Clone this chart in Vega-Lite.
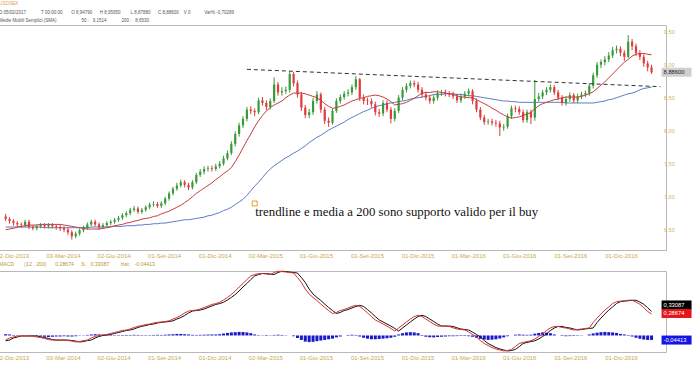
{
"$schema": "https://vega.github.io/schema/vega-lite/v6.json",
"background": "white",
"padding": {"left": -5, "top": 0, "right": 0, "bottom": 0},
"spacing": 2,
"config": {
  "font": "Liberation Sans",
  "view": {"stroke": "#b8b8b8", "strokeWidth": 1},
  "axis": {"grid": false, "domain": false, "ticks": false, "labelFont": "Liberation Sans", "labelColor": "#c9a94e", "labelFontSize": 6, "labelOverlap": false, "labelFlush": false, "labelBound": false}
},
"datasets": {
  "w": [
{"d":"2013-11-29","o":6.70,"h":6.74,"l":6.63,"c":6.66,"a":6.50,"b":6.54,"m":-0.036,"s":-0.042,"hs":0.010},
{"d":"2013-12-06","o":6.66,"h":6.69,"l":6.59,"c":6.63,"a":6.51,"b":6.54,"m":-0.020,"s":-0.036,"hs":0.008},
{"d":"2013-12-13","o":6.63,"h":6.66,"l":6.56,"c":6.60,"a":6.52,"b":6.54,"m":-0.012,"s":-0.020,"hs":0.004},
{"d":"2013-12-20","o":6.60,"h":6.63,"l":6.54,"c":6.58,"a":6.54,"b":6.54,"m":-0.004,"s":-0.012,"hs":0.002},
{"d":"2013-12-27","o":6.58,"h":6.61,"l":6.53,"c":6.57,"a":6.55,"b":6.54,"m":-0.004,"s":-0.004,"hs":0.001},
{"d":"2014-01-03","o":6.57,"h":6.65,"l":6.54,"c":6.62,"a":6.56,"b":6.54,"m":-0.004,"s":-0.004,"hs":0.000},
{"d":"2014-01-10","o":6.62,"h":6.65,"l":6.51,"c":6.54,"a":6.57,"b":6.54,"m":-0.004,"s":-0.004,"hs":-0.002},
{"d":"2014-01-17","o":6.54,"h":6.57,"l":6.49,"c":6.52,"a":6.57,"b":6.54,"m":-0.004,"s":-0.004,"hs":-0.003},
{"d":"2014-01-24","o":6.52,"h":6.58,"l":6.49,"c":6.55,"a":6.57,"b":6.54,"m":-0.012,"s":-0.004,"hs":-0.005},
{"d":"2014-01-31","o":6.55,"h":6.60,"l":6.52,"c":6.57,"a":6.58,"b":6.54,"m":-0.016,"s":-0.012,"hs":-0.008},
{"d":"2014-02-07","o":6.57,"h":6.60,"l":6.52,"c":6.55,"a":6.58,"b":6.53,"m":-0.024,"s":-0.016,"hs":-0.010},
{"d":"2014-02-14","o":6.55,"h":6.60,"l":6.52,"c":6.57,"a":6.58,"b":6.53,"m":-0.032,"s":-0.024,"hs":-0.012},
{"d":"2014-02-21","o":6.57,"h":6.60,"l":6.52,"c":6.55,"a":6.58,"b":6.53,"m":-0.036,"s":-0.032,"hs":-0.010},
{"d":"2014-02-28","o":6.55,"h":6.58,"l":6.50,"c":6.54,"a":6.58,"b":6.53,"m":-0.036,"s":-0.036,"hs":-0.008},
{"d":"2014-03-07","o":6.54,"h":6.57,"l":6.48,"c":6.52,"a":6.58,"b":6.53,"m":-0.036,"s":-0.036,"hs":-0.008},
{"d":"2014-03-14","o":6.52,"h":6.55,"l":6.46,"c":6.50,"a":6.57,"b":6.53,"m":-0.036,"s":-0.036,"hs":-0.006},
{"d":"2014-03-21","o":6.50,"h":6.53,"l":6.42,"c":6.46,"a":6.56,"b":6.53,"m":-0.040,"s":-0.036,"hs":-0.008},
{"d":"2014-03-28","o":6.46,"h":6.49,"l":6.35,"c":6.40,"a":6.55,"b":6.53,"m":-0.044,"s":-0.040,"hs":-0.008},
{"d":"2014-04-04","o":6.40,"h":6.47,"l":6.37,"c":6.44,"a":6.54,"b":6.53,"m":-0.051,"s":-0.044,"hs":-0.006},
{"d":"2014-04-11","o":6.44,"h":6.52,"l":6.41,"c":6.49,"a":6.53,"b":6.53,"m":-0.048,"s":-0.051,"hs":-0.002},
{"d":"2014-04-18","o":6.49,"h":6.56,"l":6.46,"c":6.53,"a":6.52,"b":6.53,"m":-0.040,"s":-0.048,"hs":0.002},
{"d":"2014-04-25","o":6.53,"h":6.61,"l":6.50,"c":6.58,"a":6.51,"b":6.53,"m":-0.036,"s":-0.040,"hs":0.004},
{"d":"2014-05-02","o":6.58,"h":6.65,"l":6.55,"c":6.62,"a":6.51,"b":6.54,"m":-0.020,"s":-0.036,"hs":0.008},
{"d":"2014-05-09","o":6.62,"h":6.65,"l":6.55,"c":6.58,"a":6.51,"b":6.54,"m":-0.008,"s":-0.020,"hs":0.010},
{"d":"2014-05-16","o":6.58,"h":6.61,"l":6.50,"c":6.54,"a":6.51,"b":6.54,"m":0.000,"s":-0.008,"hs":0.008},
{"d":"2014-05-23","o":6.54,"h":6.60,"l":6.51,"c":6.57,"a":6.52,"b":6.54,"m":0.004,"s":0.000,"hs":0.006},
{"d":"2014-05-30","o":6.57,"h":6.63,"l":6.54,"c":6.60,"a":6.53,"b":6.54,"m":0.008,"s":0.004,"hs":0.004},
{"d":"2014-06-06","o":6.60,"h":6.65,"l":6.57,"c":6.62,"a":6.54,"b":6.55,"m":0.016,"s":0.008,"hs":0.004},
{"d":"2014-06-13","o":6.62,"h":6.68,"l":6.59,"c":6.65,"a":6.56,"b":6.55,"m":0.023,"s":0.016,"hs":0.003},
{"d":"2014-06-20","o":6.65,"h":6.71,"l":6.62,"c":6.68,"a":6.57,"b":6.55,"m":0.031,"s":0.023,"hs":0.003},
{"d":"2014-06-27","o":6.68,"h":6.75,"l":6.65,"c":6.72,"a":6.58,"b":6.55,"m":0.039,"s":0.031,"hs":0.004},
{"d":"2014-07-04","o":6.72,"h":6.78,"l":6.69,"c":6.75,"a":6.60,"b":6.56,"m":0.043,"s":0.039,"hs":0.003},
{"d":"2014-07-11","o":6.75,"h":6.83,"l":6.72,"c":6.80,"a":6.61,"b":6.56,"m":0.051,"s":0.043,"hs":0.004},
{"d":"2014-07-18","o":6.80,"h":6.86,"l":6.77,"c":6.82,"a":6.63,"b":6.56,"m":0.063,"s":0.051,"hs":0.005},
{"d":"2014-07-25","o":6.82,"h":6.85,"l":6.74,"c":6.77,"a":6.64,"b":6.57,"m":0.072,"s":0.063,"hs":0.004},
{"d":"2014-08-01","o":6.77,"h":6.83,"l":6.74,"c":6.80,"a":6.66,"b":6.57,"m":0.078,"s":0.072,"hs":0.003},
{"d":"2014-08-08","o":6.80,"h":6.87,"l":6.77,"c":6.84,"a":6.67,"b":6.58,"m":0.086,"s":0.078,"hs":0.003},
{"d":"2014-08-15","o":6.84,"h":6.91,"l":6.81,"c":6.88,"a":6.68,"b":6.58,"m":0.090,"s":0.086,"hs":0.003},
{"d":"2014-08-22","o":6.88,"h":6.93,"l":6.85,"c":6.89,"a":6.70,"b":6.59,"m":0.098,"s":0.090,"hs":0.004},
{"d":"2014-08-29","o":6.89,"h":6.92,"l":6.83,"c":6.86,"a":6.71,"b":6.59,"m":0.103,"s":0.098,"hs":0.005},
{"d":"2014-09-05","o":6.86,"h":6.93,"l":6.83,"c":6.90,"a":6.74,"b":6.60,"m":0.106,"s":0.103,"hs":0.004},
{"d":"2014-09-12","o":6.90,"h":7.00,"l":6.87,"c":6.97,"a":6.76,"b":6.60,"m":0.110,"s":0.106,"hs":0.006},
{"d":"2014-09-19","o":6.97,"h":7.08,"l":6.94,"c":7.05,"a":6.78,"b":6.61,"m":0.115,"s":0.110,"hs":0.008},
{"d":"2014-09-26","o":7.05,"h":7.15,"l":7.02,"c":7.12,"a":6.81,"b":6.62,"m":0.129,"s":0.115,"hs":0.010},
{"d":"2014-10-03","o":7.12,"h":7.21,"l":7.09,"c":7.17,"a":6.84,"b":6.63,"m":0.141,"s":0.129,"hs":0.012},
{"d":"2014-10-10","o":7.17,"h":7.26,"l":7.14,"c":7.22,"a":6.87,"b":6.64,"m":0.157,"s":0.141,"hs":0.012},
{"d":"2014-10-17","o":7.22,"h":7.25,"l":7.14,"c":7.18,"a":6.91,"b":6.65,"m":0.177,"s":0.157,"hs":0.010},
{"d":"2014-10-24","o":7.18,"h":7.21,"l":7.10,"c":7.14,"a":6.95,"b":6.65,"m":0.192,"s":0.177,"hs":0.008},
{"d":"2014-10-31","o":7.14,"h":7.25,"l":7.11,"c":7.22,"a":7.00,"b":6.66,"m":0.196,"s":0.192,"hs":0.005},
{"d":"2014-11-07","o":7.22,"h":7.36,"l":7.19,"c":7.33,"a":7.05,"b":6.67,"m":0.200,"s":0.196,"hs":0.004},
{"d":"2014-11-14","o":7.33,"h":7.42,"l":7.30,"c":7.38,"a":7.09,"b":6.68,"m":0.208,"s":0.200,"hs":0.005},
{"d":"2014-11-21","o":7.38,"h":7.46,"l":7.34,"c":7.42,"a":7.13,"b":6.69,"m":0.220,"s":0.208,"hs":0.006},
{"d":"2014-11-28","o":7.42,"h":7.47,"l":7.38,"c":7.43,"a":7.17,"b":6.71,"m":0.232,"s":0.220,"hs":0.007},
{"d":"2014-12-05","o":7.43,"h":7.47,"l":7.38,"c":7.42,"a":7.21,"b":6.72,"m":0.244,"s":0.232,"hs":0.008},
{"d":"2014-12-12","o":7.42,"h":7.50,"l":7.39,"c":7.46,"a":7.26,"b":6.74,"m":0.251,"s":0.244,"hs":0.008},
{"d":"2014-12-19","o":7.46,"h":7.54,"l":7.43,"c":7.50,"a":7.30,"b":6.76,"m":0.261,"s":0.251,"hs":0.010},
{"d":"2014-12-26","o":7.50,"h":7.62,"l":7.47,"c":7.58,"a":7.35,"b":6.79,"m":0.279,"s":0.261,"hs":0.015},
{"d":"2015-01-02","o":7.58,"h":7.70,"l":7.55,"c":7.66,"a":7.39,"b":6.81,"m":0.299,"s":0.279,"hs":0.020},
{"d":"2015-01-09","o":7.66,"h":7.84,"l":7.63,"c":7.80,"a":7.44,"b":6.84,"m":0.322,"s":0.299,"hs":0.024},
{"d":"2015-01-16","o":7.80,"h":7.99,"l":7.76,"c":7.95,"a":7.53,"b":6.88,"m":0.350,"s":0.322,"hs":0.026},
{"d":"2015-01-23","o":7.95,"h":8.12,"l":7.91,"c":8.08,"a":7.63,"b":6.92,"m":0.381,"s":0.350,"hs":0.028},
{"d":"2015-01-30","o":8.08,"h":8.22,"l":8.04,"c":8.18,"a":7.74,"b":6.96,"m":0.409,"s":0.381,"hs":0.027},
{"d":"2015-02-06","o":8.18,"h":8.36,"l":8.14,"c":8.32,"a":7.85,"b":7.02,"m":0.440,"s":0.409,"hs":0.024},
{"d":"2015-02-13","o":8.32,"h":8.37,"l":8.25,"c":8.30,"a":7.95,"b":7.09,"m":0.468,"s":0.440,"hs":0.018},
{"d":"2015-02-20","o":8.30,"h":8.34,"l":8.22,"c":8.28,"a":8.06,"b":7.16,"m":0.479,"s":0.468,"hs":0.008},
{"d":"2015-02-27","o":8.28,"h":8.50,"l":8.25,"c":8.46,"a":8.15,"b":7.22,"m":0.487,"s":0.479,"hs":0.003},
{"d":"2015-03-06","o":8.46,"h":8.51,"l":8.38,"c":8.42,"a":8.23,"b":7.29,"m":0.487,"s":0.487,"hs":-0.002},
{"d":"2015-03-13","o":8.42,"h":8.46,"l":8.31,"c":8.36,"a":8.30,"b":7.36,"m":0.483,"s":0.487,"hs":-0.004},
{"d":"2015-03-20","o":8.36,"h":8.49,"l":8.32,"c":8.45,"a":8.35,"b":7.42,"m":0.479,"s":0.483,"hs":-0.002},
{"d":"2015-03-27","o":8.45,"h":8.81,"l":8.42,"c":8.70,"a":8.39,"b":7.47,"m":0.495,"s":0.479,"hs":0.004},
{"d":"2015-04-03","o":8.70,"h":8.74,"l":8.53,"c":8.58,"a":8.42,"b":7.51,"m":0.505,"s":0.495,"hs":0.006},
{"d":"2015-04-10","o":8.58,"h":8.66,"l":8.53,"c":8.60,"a":8.45,"b":7.55,"m":0.503,"s":0.505,"hs":0.004},
{"d":"2015-04-17","o":8.60,"h":8.67,"l":8.56,"c":8.62,"a":8.50,"b":7.59,"m":0.499,"s":0.503,"hs":0.002},
{"d":"2015-04-24","o":8.62,"h":8.90,"l":8.58,"c":8.86,"a":8.54,"b":7.62,"m":0.495,"s":0.499,"hs":0.000},
{"d":"2015-05-01","o":8.86,"h":8.89,"l":8.67,"c":8.72,"a":8.57,"b":7.66,"m":0.491,"s":0.495,"hs":-0.006},
{"d":"2015-05-08","o":8.72,"h":8.76,"l":8.50,"c":8.55,"a":8.57,"b":7.69,"m":0.456,"s":0.491,"hs":-0.020},
{"d":"2015-05-15","o":8.55,"h":8.59,"l":8.30,"c":8.35,"a":8.57,"b":7.73,"m":0.417,"s":0.456,"hs":-0.035},
{"d":"2015-05-22","o":8.35,"h":8.39,"l":8.19,"c":8.24,"a":8.56,"b":7.77,"m":0.365,"s":0.417,"hs":-0.048},
{"d":"2015-05-29","o":8.24,"h":8.33,"l":8.19,"c":8.28,"a":8.54,"b":7.82,"m":0.326,"s":0.365,"hs":-0.052},
{"d":"2015-06-05","o":8.28,"h":8.50,"l":8.24,"c":8.45,"a":8.52,"b":7.86,"m":0.299,"s":0.326,"hs":-0.050},
{"d":"2015-06-12","o":8.45,"h":8.60,"l":8.41,"c":8.55,"a":8.50,"b":7.90,"m":0.275,"s":0.299,"hs":-0.045},
{"d":"2015-06-19","o":8.55,"h":8.58,"l":8.27,"c":8.32,"a":8.46,"b":7.93,"m":0.247,"s":0.275,"hs":-0.040},
{"d":"2015-06-26","o":8.32,"h":8.36,"l":8.10,"c":8.15,"a":8.41,"b":7.97,"m":0.220,"s":0.247,"hs":-0.035},
{"d":"2015-07-03","o":8.15,"h":8.20,"l":8.06,"c":8.12,"a":8.37,"b":8.01,"m":0.196,"s":0.220,"hs":-0.030},
{"d":"2015-07-10","o":8.12,"h":8.34,"l":8.09,"c":8.30,"a":8.34,"b":8.04,"m":0.173,"s":0.196,"hs":-0.025},
{"d":"2015-07-17","o":8.30,"h":8.49,"l":8.27,"c":8.45,"a":8.35,"b":8.07,"m":0.181,"s":0.173,"hs":-0.015},
{"d":"2015-07-24","o":8.45,"h":8.55,"l":8.41,"c":8.51,"a":8.37,"b":8.10,"m":0.196,"s":0.181,"hs":-0.008},
{"d":"2015-07-31","o":8.51,"h":8.60,"l":8.47,"c":8.56,"a":8.39,"b":8.13,"m":0.204,"s":0.196,"hs":0.000},
{"d":"2015-08-07","o":8.56,"h":8.63,"l":8.52,"c":8.58,"a":8.42,"b":8.17,"m":0.216,"s":0.204,"hs":0.004},
{"d":"2015-08-14","o":8.58,"h":8.70,"l":8.54,"c":8.66,"a":8.45,"b":8.20,"m":0.228,"s":0.216,"hs":0.006},
{"d":"2015-08-21","o":8.66,"h":8.83,"l":8.62,"c":8.78,"a":8.47,"b":8.23,"m":0.237,"s":0.228,"hs":0.004},
{"d":"2015-08-28","o":8.78,"h":8.80,"l":8.45,"c":8.50,"a":8.49,"b":8.26,"m":0.228,"s":0.237,"hs":-0.008},
{"d":"2015-09-04","o":8.50,"h":8.55,"l":8.40,"c":8.45,"a":8.50,"b":8.29,"m":0.204,"s":0.228,"hs":-0.018},
{"d":"2015-09-11","o":8.46,"h":8.50,"l":8.39,"c":8.45,"a":8.52,"b":8.31,"m":0.177,"s":0.204,"hs":-0.025},
{"d":"2015-09-18","o":8.45,"h":8.49,"l":8.35,"c":8.40,"a":8.53,"b":8.34,"m":0.149,"s":0.177,"hs":-0.030},
{"d":"2015-09-25","o":8.40,"h":8.44,"l":8.23,"c":8.28,"a":8.54,"b":8.36,"m":0.122,"s":0.149,"hs":-0.030},
{"d":"2015-10-02","o":8.28,"h":8.33,"l":8.21,"c":8.26,"a":8.53,"b":8.38,"m":0.106,"s":0.122,"hs":-0.028},
{"d":"2015-10-09","o":8.26,"h":8.46,"l":8.22,"c":8.42,"a":8.51,"b":8.39,"m":0.090,"s":0.106,"hs":-0.025},
{"d":"2015-10-16","o":8.42,"h":8.46,"l":8.28,"c":8.32,"a":8.48,"b":8.41,"m":0.074,"s":0.090,"hs":-0.022},
{"d":"2015-10-23","o":8.32,"h":8.36,"l":8.11,"c":8.18,"a":8.44,"b":8.42,"m":0.055,"s":0.074,"hs":-0.018},
{"d":"2015-10-30","o":8.18,"h":8.34,"l":8.14,"c":8.30,"a":8.39,"b":8.43,"m":0.035,"s":0.055,"hs":-0.010},
{"d":"2015-11-06","o":8.30,"h":8.54,"l":8.27,"c":8.50,"a":8.40,"b":8.44,"m":0.059,"s":0.035,"hs":0.008},
{"d":"2015-11-13","o":8.50,"h":8.66,"l":8.46,"c":8.62,"a":8.41,"b":8.45,"m":0.082,"s":0.059,"hs":0.018},
{"d":"2015-11-20","o":8.62,"h":8.72,"l":8.58,"c":8.68,"a":8.43,"b":8.46,"m":0.106,"s":0.082,"hs":0.024},
{"d":"2015-11-27","o":8.68,"h":8.76,"l":8.64,"c":8.72,"a":8.46,"b":8.48,"m":0.129,"s":0.106,"hs":0.026},
{"d":"2015-12-04","o":8.72,"h":8.76,"l":8.66,"c":8.70,"a":8.49,"b":8.49,"m":0.149,"s":0.129,"hs":0.024},
{"d":"2015-12-11","o":8.70,"h":8.74,"l":8.58,"c":8.62,"a":8.53,"b":8.50,"m":0.159,"s":0.149,"hs":0.018},
{"d":"2015-12-18","o":8.62,"h":8.66,"l":8.50,"c":8.55,"a":8.57,"b":8.51,"m":0.149,"s":0.159,"hs":-0.004},
{"d":"2015-12-25","o":8.55,"h":8.59,"l":8.46,"c":8.50,"a":8.58,"b":8.52,"m":0.129,"s":0.149,"hs":-0.010},
{"d":"2016-01-01","o":8.50,"h":8.54,"l":8.41,"c":8.45,"a":8.58,"b":8.53,"m":0.110,"s":0.129,"hs":-0.014},
{"d":"2016-01-08","o":8.45,"h":8.54,"l":8.41,"c":8.50,"a":8.59,"b":8.55,"m":0.090,"s":0.110,"hs":-0.015},
{"d":"2016-01-15","o":8.50,"h":8.61,"l":8.46,"c":8.57,"a":8.59,"b":8.55,"m":0.074,"s":0.090,"hs":-0.012},
{"d":"2016-01-22","o":8.57,"h":8.62,"l":8.53,"c":8.58,"a":8.58,"b":8.55,"m":0.074,"s":0.074,"hs":-0.010},
{"d":"2016-01-29","o":8.58,"h":8.62,"l":8.52,"c":8.56,"a":8.57,"b":8.56,"m":0.074,"s":0.074,"hs":-0.008},
{"d":"2016-02-05","o":8.56,"h":8.60,"l":8.51,"c":8.55,"a":8.56,"b":8.56,"m":0.071,"s":0.074,"hs":-0.006},
{"d":"2016-02-12","o":8.55,"h":8.59,"l":8.48,"c":8.52,"a":8.55,"b":8.56,"m":0.060,"s":0.071,"hs":-0.006},
{"d":"2016-02-19","o":8.52,"h":8.56,"l":8.42,"c":8.46,"a":8.53,"b":8.55,"m":0.051,"s":0.060,"hs":-0.005},
{"d":"2016-02-26","o":8.46,"h":8.56,"l":8.42,"c":8.52,"a":8.51,"b":8.55,"m":0.047,"s":0.051,"hs":-0.004},
{"d":"2016-03-04","o":8.52,"h":8.60,"l":8.48,"c":8.56,"a":8.51,"b":8.54,"m":0.043,"s":0.047,"hs":-0.004},
{"d":"2016-03-11","o":8.56,"h":8.64,"l":8.52,"c":8.60,"a":8.50,"b":8.53,"m":0.027,"s":0.043,"hs":-0.006},
{"d":"2016-03-18","o":8.60,"h":8.63,"l":8.40,"c":8.45,"a":8.50,"b":8.53,"m":0.008,"s":0.027,"hs":-0.010},
{"d":"2016-03-25","o":8.45,"h":8.49,"l":8.28,"c":8.32,"a":8.47,"b":8.52,"m":-0.012,"s":0.008,"hs":-0.018},
{"d":"2016-04-01","o":8.32,"h":8.36,"l":8.16,"c":8.20,"a":8.44,"b":8.51,"m":-0.040,"s":-0.012,"hs":-0.026},
{"d":"2016-04-08","o":8.20,"h":8.24,"l":8.09,"c":8.13,"a":8.41,"b":8.50,"m":-0.063,"s":-0.040,"hs":-0.032},
{"d":"2016-04-15","o":8.13,"h":8.18,"l":8.09,"c":8.14,"a":8.38,"b":8.49,"m":-0.079,"s":-0.063,"hs":-0.035},
{"d":"2016-04-22","o":8.14,"h":8.18,"l":8.08,"c":8.12,"a":8.34,"b":8.48,"m":-0.095,"s":-0.079,"hs":-0.033},
{"d":"2016-04-29","o":8.12,"h":8.16,"l":8.06,"c":8.11,"a":8.31,"b":8.47,"m":-0.106,"s":-0.095,"hs":-0.030},
{"d":"2016-05-06","o":8.11,"h":8.15,"l":7.92,"c":8.05,"a":8.27,"b":8.46,"m":-0.114,"s":-0.106,"hs":-0.024},
{"d":"2016-05-13","o":8.05,"h":8.10,"l":8.00,"c":8.06,"a":8.24,"b":8.45,"m":-0.122,"s":-0.114,"hs":-0.015},
{"d":"2016-05-20","o":8.06,"h":8.26,"l":8.03,"c":8.22,"a":8.21,"b":8.45,"m":-0.118,"s":-0.122,"hs":-0.006},
{"d":"2016-05-27","o":8.22,"h":8.38,"l":8.18,"c":8.34,"a":8.19,"b":8.44,"m":-0.110,"s":-0.118,"hs":0.000},
{"d":"2016-06-03","o":8.34,"h":8.38,"l":8.28,"c":8.33,"a":8.20,"b":8.44,"m":-0.087,"s":-0.110,"hs":0.006},
{"d":"2016-06-10","o":8.33,"h":8.37,"l":8.24,"c":8.28,"a":8.21,"b":8.43,"m":-0.063,"s":-0.087,"hs":0.008},
{"d":"2016-06-17","o":8.28,"h":8.32,"l":8.12,"c":8.16,"a":8.23,"b":8.43,"m":-0.055,"s":-0.063,"hs":0.006},
{"d":"2016-06-24","o":8.16,"h":8.32,"l":8.12,"c":8.28,"a":8.25,"b":8.43,"m":-0.048,"s":-0.055,"hs":0.005},
{"d":"2016-07-01","o":8.28,"h":8.32,"l":8.10,"c":8.20,"a":8.28,"b":8.43,"m":-0.042,"s":-0.048,"hs":0.006},
{"d":"2016-07-08","o":8.20,"h":8.77,"l":8.15,"c":8.48,"a":8.33,"b":8.43,"m":-0.028,"s":-0.042,"hs":0.014},
{"d":"2016-07-15","o":8.48,"h":8.57,"l":8.44,"c":8.52,"a":8.38,"b":8.43,"m":-0.008,"s":-0.028,"hs":0.020},
{"d":"2016-07-22","o":8.52,"h":8.62,"l":8.48,"c":8.58,"a":8.41,"b":8.43,"m":0.012,"s":-0.008,"hs":0.024},
{"d":"2016-07-29","o":8.58,"h":8.66,"l":8.54,"c":8.62,"a":8.43,"b":8.43,"m":0.039,"s":0.012,"hs":0.022},
{"d":"2016-08-05","o":8.62,"h":8.70,"l":8.58,"c":8.66,"a":8.45,"b":8.43,"m":0.059,"s":0.039,"hs":0.018},
{"d":"2016-08-12","o":8.66,"h":8.69,"l":8.54,"c":8.58,"a":8.47,"b":8.43,"m":0.071,"s":0.059,"hs":0.008},
{"d":"2016-08-19","o":8.58,"h":8.62,"l":8.46,"c":8.50,"a":8.48,"b":8.43,"m":0.071,"s":0.071,"hs":0.000},
{"d":"2016-08-26","o":8.50,"h":8.54,"l":8.38,"c":8.42,"a":8.50,"b":8.43,"m":0.063,"s":0.071,"hs":-0.004},
{"d":"2016-09-02","o":8.42,"h":8.52,"l":8.38,"c":8.48,"a":8.51,"b":8.42,"m":0.059,"s":0.063,"hs":-0.006},
{"d":"2016-09-09","o":8.48,"h":8.58,"l":8.44,"c":8.54,"a":8.51,"b":8.42,"m":0.051,"s":0.059,"hs":-0.005},
{"d":"2016-09-16","o":8.54,"h":8.57,"l":8.42,"c":8.46,"a":8.51,"b":8.42,"m":0.043,"s":0.051,"hs":-0.004},
{"d":"2016-09-23","o":8.46,"h":8.56,"l":8.42,"c":8.52,"a":8.51,"b":8.42,"m":0.047,"s":0.043,"hs":-0.003},
{"d":"2016-09-30","o":8.52,"h":8.59,"l":8.48,"c":8.55,"a":8.52,"b":8.42,"m":0.051,"s":0.047,"hs":-0.002},
{"d":"2016-10-07","o":8.55,"h":8.61,"l":8.51,"c":8.57,"a":8.54,"b":8.42,"m":0.055,"s":0.051,"hs":0.000},
{"d":"2016-10-14","o":8.57,"h":8.72,"l":8.53,"c":8.68,"a":8.56,"b":8.42,"m":0.059,"s":0.055,"hs":0.008},
{"d":"2016-10-21","o":8.68,"h":8.88,"l":8.64,"c":8.84,"a":8.59,"b":8.42,"m":0.102,"s":0.059,"hs":0.016},
{"d":"2016-10-28","o":8.84,"h":9.04,"l":8.80,"c":9.00,"a":8.64,"b":8.43,"m":0.137,"s":0.102,"hs":0.022},
{"d":"2016-11-04","o":9.00,"h":9.08,"l":8.95,"c":9.04,"a":8.69,"b":8.44,"m":0.169,"s":0.137,"hs":0.026},
{"d":"2016-11-11","o":9.04,"h":9.13,"l":8.99,"c":9.08,"a":8.74,"b":8.45,"m":0.200,"s":0.169,"hs":0.028},
{"d":"2016-11-18","o":9.08,"h":9.19,"l":9.04,"c":9.14,"a":8.80,"b":8.47,"m":0.224,"s":0.200,"hs":0.026},
{"d":"2016-11-25","o":9.14,"h":9.27,"l":9.10,"c":9.22,"a":8.86,"b":8.48,"m":0.251,"s":0.224,"hs":0.024},
{"d":"2016-12-02","o":9.22,"h":9.29,"l":9.17,"c":9.24,"a":8.92,"b":8.50,"m":0.266,"s":0.251,"hs":0.020},
{"d":"2016-12-09","o":9.24,"h":9.28,"l":9.13,"c":9.18,"a":8.98,"b":8.52,"m":0.270,"s":0.266,"hs":0.012},
{"d":"2016-12-16","o":9.18,"h":9.22,"l":9.06,"c":9.12,"a":9.04,"b":8.54,"m":0.273,"s":0.270,"hs":0.008},
{"d":"2016-12-23","o":9.12,"h":9.45,"l":9.10,"c":9.35,"a":9.08,"b":8.56,"m":0.277,"s":0.273,"hs":0.004},
{"d":"2016-12-30","o":9.35,"h":9.39,"l":9.22,"c":9.28,"a":9.13,"b":8.57,"m":0.277,"s":0.277,"hs":-0.008},
{"d":"2017-01-06","o":9.28,"h":9.32,"l":9.13,"c":9.18,"a":9.16,"b":8.59,"m":0.263,"s":0.277,"hs":-0.018},
{"d":"2017-01-13","o":9.18,"h":9.22,"l":9.07,"c":9.12,"a":9.17,"b":8.62,"m":0.245,"s":0.263,"hs":-0.026},
{"d":"2017-01-20","o":9.12,"h":9.16,"l":8.97,"c":9.02,"a":9.17,"b":8.64,"m":0.218,"s":0.245,"hs":-0.032},
{"d":"2017-01-27","o":9.02,"h":9.06,"l":8.90,"c":8.96,"a":9.16,"b":8.65,"m":0.189,"s":0.218,"hs":-0.035},
{"d":"2017-02-03","o":8.96,"h":9.00,"l":8.86,"c":8.886,"a":9.15,"b":8.66,"m":0.169,"s":0.189,"hs":-0.035}
  ],
  "trend": [{"d":"2015-02-06","p":8.930},{"d":"2017-02-19","p":8.667}],
  "box": [{"d":"2015-02-20","p":6.897}],
  "note": [{"d":"2015-02-21","p":6.707,"t":"trendline e media a 200 sono supporto valido per il buy"}],
  "ticks": [{"v":6.5,"t":"6,50"},{"v":7.0,"t":"7,00"},{"v":7.5,"t":"7,50"},{"v":8.0,"t":"8,00"},{"v":8.5,"t":"8,50"},{"v":9.0,"t":"9,00"},{"v":9.5,"t":"9,50"}],
  "tagm": [{"k":"P","v":8.886,"t":"8,88600"}],
  "tagd": [{"k":"S","v":0.240,"t":"0,33087"},{"k":"M","v":0.173,"t":"0,28674"},{"k":"H","v":-0.036,"t":"-0,04413"}]
},
"vconcat": [
{
  "width": 667, "height": 225,
  "title": {"text": "USDSEK", "subtitle": ["D\u00a005/02/2017\u00a0\u00a0\u00a0\u00a0\u00a0\u00a0\u00a0\u00a0\u00a0\u00a0\u00a0\u00a0T\u00a000:00:00\u00a0\u00a0\u00a0\u00a0\u00a0\u00a0\u00a0O\u00a08,94790\u00a0\u00a0\u00a0\u00a0\u00a0\u00a0H\u00a08,95950\u00a0\u00a0\u00a0\u00a0\u00a0\u00a0\u00a0\u00a0L\u00a08,87880\u00a0\u00a0\u00a0\u00a0\u00a0\u00a0C\u00a08,88600\u00a0\u00a0\u00a0\u00a0V\u00a00\u00a0\u00a0\u00a0\u00a0\u00a0\u00a0\u00a0\u00a0\u00a0\u00a0\u00a0Var%\u00a0-0,70289", "\u00a0\u00a0\u00a0\u00a0\u00a0\u00a0\u00a0\u00a0Medie Mobili Semplici (SMA)\u00a0\u00a0\u00a0\u00a0\u00a0\u00a0\u00a0\u00a0\u00a0\u00a0\u00a0\u00a0\u00a0\u00a0\u00a0\u00a0\u00a0\u00a0\u00a0\u00a050 :\u00a0\u00a0\u00a09,1514\u00a0\u00a0\u00a0\u00a0\u00a0\u00a0\u00a0\u00a0\u00a0\u00a0\u00a0\u00a0200 :\u00a0\u00a0\u00a08,6530"],
    "anchor": "start", "frame": "group", "fontSize": 4.8, "fontWeight": "normal", "color": "#e8a050", "font": "Liberation Sans",
    "subtitleFont": "Liberation Sans", "subtitleFontSize": 4.5, "subtitleColor": "#555555", "subtitleLineHeight": 7.5, "subtitlePadding": 4, "offset": 3},
  "layer": [
    {"data": {"name": "w"}, "mark": {"type": "line", "strokeWidth": 1, "color": "#5a7cc8"},
     "encoding": {
       "x": {"field": "d", "type": "temporal", "title": null, "scale": {"type": "utc", "domain": [{"year": 2013, "month": 11, "date": 26, "utc": true}, {"year": 2017, "month": 2, "date": 20, "utc": true}]},
             "axis": {"values": [{"year":2013,"month":12,"date":2,"utc":true},{"year":2014,"month":3,"date":3,"utc":true},{"year":2014,"month":6,"date":2,"utc":true},{"year":2014,"month":9,"date":1,"utc":true},{"year":2014,"month":12,"date":1,"utc":true},{"year":2015,"month":3,"date":2,"utc":true},{"year":2015,"month":6,"date":1,"utc":true},{"year":2015,"month":9,"date":1,"utc":true},{"year":2015,"month":12,"date":1,"utc":true},{"year":2016,"month":3,"date":1,"utc":true},{"year":2016,"month":6,"date":1,"utc":true},{"year":2016,"month":9,"date":1,"utc":true},{"year":2016,"month":12,"date":1,"utc":true}],
                      "labelExpr": "utcFormat(datum.value, '%d') + '-' + ['Gen','Feb','Mar','Apr','Mag','Giu','Lug','Ago','Set','Ott','Nov','Dic'][utcmonth(datum.value)] + '-' + utcFormat(datum.value, '%Y')",
                      "labelOffset": 5, "labelPadding": 2, "labelOverlap": false}},
       "y": {"field": "b", "type": "quantitative", "title": null, "axis": null, "scale": {"domain": [6.192, 9.602], "nice": false, "zero": false}}
     }},
    {"data": {"name": "w"}, "mark": {"type": "rule", "strokeWidth": 1},
     "encoding": {
       "x": {"field": "d", "type": "temporal", "title": null},
       "y": {"field": "l", "type": "quantitative", "title": null, "axis": null, "scale": {"domain": [6.192, 9.602], "nice": false, "zero": false}},
       "y2": {"field": "h"},
       "color": {"condition": {"test": "datum.c >= datum.o", "value": "#3a9a3a"}, "value": "#e03a3a"}
     }},
    {"data": {"name": "w"}, "mark": {"type": "bar", "size": 2.2},
     "encoding": {
       "x": {"field": "d", "type": "temporal", "title": null},
       "y": {"field": "o", "type": "quantitative", "title": null, "axis": null, "scale": {"domain": [6.192, 9.602], "nice": false, "zero": false}},
       "y2": {"field": "c"},
       "color": {"condition": {"test": "datum.c >= datum.o", "value": "#3a9a3a"}, "value": "#e03a3a"}
     }},
    {"data": {"name": "w"}, "mark": {"type": "line", "strokeWidth": 1, "color": "#c83c3c"},
     "encoding": {"x": {"field": "d", "type": "temporal", "title": null}, "y": {"field": "a", "type": "quantitative", "title": null, "axis": null, "scale": {"domain": [6.192, 9.602], "nice": false, "zero": false}}}},
    {"data": {"name": "trend"}, "mark": {"type": "line", "strokeWidth": 1, "color": "#333333", "strokeDash": [4, 3]},
     "encoding": {"x": {"field": "d", "type": "temporal", "title": null}, "y": {"field": "p", "type": "quantitative", "title": null, "axis": null, "scale": {"domain": [6.192, 9.602], "nice": false, "zero": false}}}},
    {"data": {"name": "box"}, "mark": {"type": "point", "shape": "square", "size": 24, "filled": false, "color": "#e0a020", "strokeWidth": 1, "opacity": 1},
     "encoding": {"x": {"field": "d", "type": "temporal", "title": null}, "y": {"field": "p", "type": "quantitative", "title": null, "axis": null, "scale": {"domain": [6.192, 9.602], "nice": false, "zero": false}}}},
    {"data": {"name": "note"}, "mark": {"type": "text", "font": "Liberation Serif", "fontSize": 12.8, "align": "left", "baseline": "alphabetic", "color": "#111111"},
     "encoding": {"x": {"field": "d", "type": "temporal", "title": null}, "y": {"field": "p", "type": "quantitative", "title": null, "axis": null, "scale": {"domain": [6.192, 9.602], "nice": false, "zero": false}}, "text": {"field": "t"}}},
    {"data": {"name": "ticks"}, "mark": {"type": "text", "align": "left", "baseline": "middle", "fontSize": 5.5, "dx": 3, "color": "#d1b45a"},
     "encoding": {"x": {"datum": {"year": 2017, "month": 2, "date": 20, "utc": true}, "type": "temporal", "title": null},
                  "y": {"field": "v", "type": "quantitative", "title": null, "axis": null, "scale": {"domain": [6.192, 9.602], "nice": false, "zero": false}},
                  "text": {"field": "t"}}},
    {"data": {"name": "tagm"}, "mark": {"type": "point", "shape": "M0,-0.3L2,-0.3L2,0.3L0,0.3Z", "size": 900, "filled": true, "opacity": 1, "strokeWidth": 0},
     "encoding": {"x": {"datum": {"year": 2017, "month": 2, "date": 21, "utc": true}, "type": "temporal", "title": null},
                  "y": {"field": "v", "type": "quantitative", "title": null, "axis": null, "scale": {"domain": [6.192, 9.602], "nice": false, "zero": false}},
                  "color": {"field": "k", "type": "nominal", "legend": null, "scale": {"domain": ["P", "S", "M", "H"], "range": ["#cfcfcf", "#000000", "#e8141c", "#1414e6"]}}}},
    {"data": {"name": "tagm"}, "mark": {"type": "text", "align": "left", "baseline": "middle", "fontSize": 5.8, "dx": 2},
     "encoding": {"x": {"datum": {"year": 2017, "month": 2, "date": 21, "utc": true}, "type": "temporal", "title": null},
                  "y": {"field": "v", "type": "quantitative", "title": null, "axis": null, "scale": {"domain": [6.192, 9.602], "nice": false, "zero": false}},
                  "text": {"field": "t"},
                  "color": {"value": "#202020"}}}
  ]
},
{
  "width": 667, "height": 81,
  "title": {"text": "\u00a0\u00a0\u00a0MACD\u00a0\u00a0\u00a0\u00a0\u00a0\u00a0\u00a0(12 , 200)\u00a0\u00a0\u00a0\u00a0\u00a0\u00a00,28674\u00a0\u00a0\u00a0\u00a0\u00a0S:\u00a0\u00a0\u00a00,33087\u00a0\u00a0\u00a0\u00a0\u00a0\u00a0\u00a0\u00a0hist:\u00a0\u00a0\u00a0-0,04413",
    "anchor": "start", "frame": "group", "fontSize": 5.2, "fontWeight": "normal", "color": "#b8953a", "font": "Liberation Sans", "offset": 2},
  "layer": [
    {"data": {"name": "w"}, "mark": {"type": "bar", "size": 3, "color": "#1818c8"},
     "encoding": {
       "x": {"field": "d", "type": "temporal", "title": null, "scale": {"type": "utc", "domain": [{"year": 2013, "month": 11, "date": 26, "utc": true}, {"year": 2017, "month": 2, "date": 20, "utc": true}]},
             "axis": {"values": [{"year":2013,"month":12,"date":2,"utc":true},{"year":2014,"month":3,"date":3,"utc":true},{"year":2014,"month":6,"date":2,"utc":true},{"year":2014,"month":9,"date":1,"utc":true},{"year":2014,"month":12,"date":1,"utc":true},{"year":2015,"month":3,"date":2,"utc":true},{"year":2015,"month":6,"date":1,"utc":true},{"year":2015,"month":9,"date":1,"utc":true},{"year":2015,"month":12,"date":1,"utc":true},{"year":2016,"month":3,"date":1,"utc":true},{"year":2016,"month":6,"date":1,"utc":true},{"year":2016,"month":9,"date":1,"utc":true},{"year":2016,"month":12,"date":1,"utc":true}],
                      "labelExpr": "utcFormat(datum.value, '%d') + '-' + ['Gen','Feb','Mar','Apr','Mag','Giu','Lug','Ago','Set','Ott','Nov','Dic'][utcmonth(datum.value)] + '-' + utcFormat(datum.value, '%Y')",
                      "labelOffset": 5, "labelPadding": 2, "labelOverlap": false}},
       "y": {"field": "hs", "type": "quantitative", "title": null, "scale": {"domain": [-0.13, 0.507], "nice": false, "zero": false},
             "axis": {"orient": "right", "values": [-0.13, 0.507], "labelExpr": "datum.value > 0 ? '0,50698' : '-0,18812'", "labelPadding": 3, "labelFontSize": 5.5, "labelColor": "#d1b45a", "labelOverlap": false}},
       "y2": {"datum": 0}
     }},
    {"data": {"name": "w"}, "mark": {"type": "line", "strokeWidth": 1, "color": "#111111"},
     "encoding": {"x": {"field": "d", "type": "temporal", "title": null}, "y": {"field": "s", "type": "quantitative", "title": null, "axis": null, "scale": {"domain": [-0.13, 0.507], "nice": false, "zero": false}}}},
    {"data": {"name": "w"}, "mark": {"type": "line", "strokeWidth": 1, "color": "#d83030"},
     "encoding": {"x": {"field": "d", "type": "temporal", "title": null}, "y": {"field": "m", "type": "quantitative", "title": null, "axis": null, "scale": {"domain": [-0.13, 0.507], "nice": false, "zero": false}}}},
    {"data": {"name": "tagd"}, "mark": {"type": "point", "shape": "M0,-0.3L2,-0.3L2,0.3L0,0.3Z", "size": 900, "filled": true, "opacity": 1, "strokeWidth": 0},
     "encoding": {"x": {"datum": {"year": 2017, "month": 2, "date": 21, "utc": true}, "type": "temporal", "title": null},
                  "y": {"field": "v", "type": "quantitative", "title": null, "axis": null, "scale": {"domain": [-0.13, 0.507], "nice": false, "zero": false}},
                  "color": {"field": "k", "type": "nominal", "legend": null, "scale": {"domain": ["P", "S", "M", "H"], "range": ["#cfcfcf", "#000000", "#e8141c", "#1414e6"]}}}},
    {"data": {"name": "tagd"}, "mark": {"type": "text", "align": "left", "baseline": "middle", "fontSize": 5.8, "dx": 2},
     "encoding": {"x": {"datum": {"year": 2017, "month": 2, "date": 21, "utc": true}, "type": "temporal", "title": null},
                  "y": {"field": "v", "type": "quantitative", "title": null, "axis": null, "scale": {"domain": [-0.13, 0.507], "nice": false, "zero": false}},
                  "text": {"field": "t"},
                  "color": {"value": "#ffffff"}}}
  ]
}
]
}
